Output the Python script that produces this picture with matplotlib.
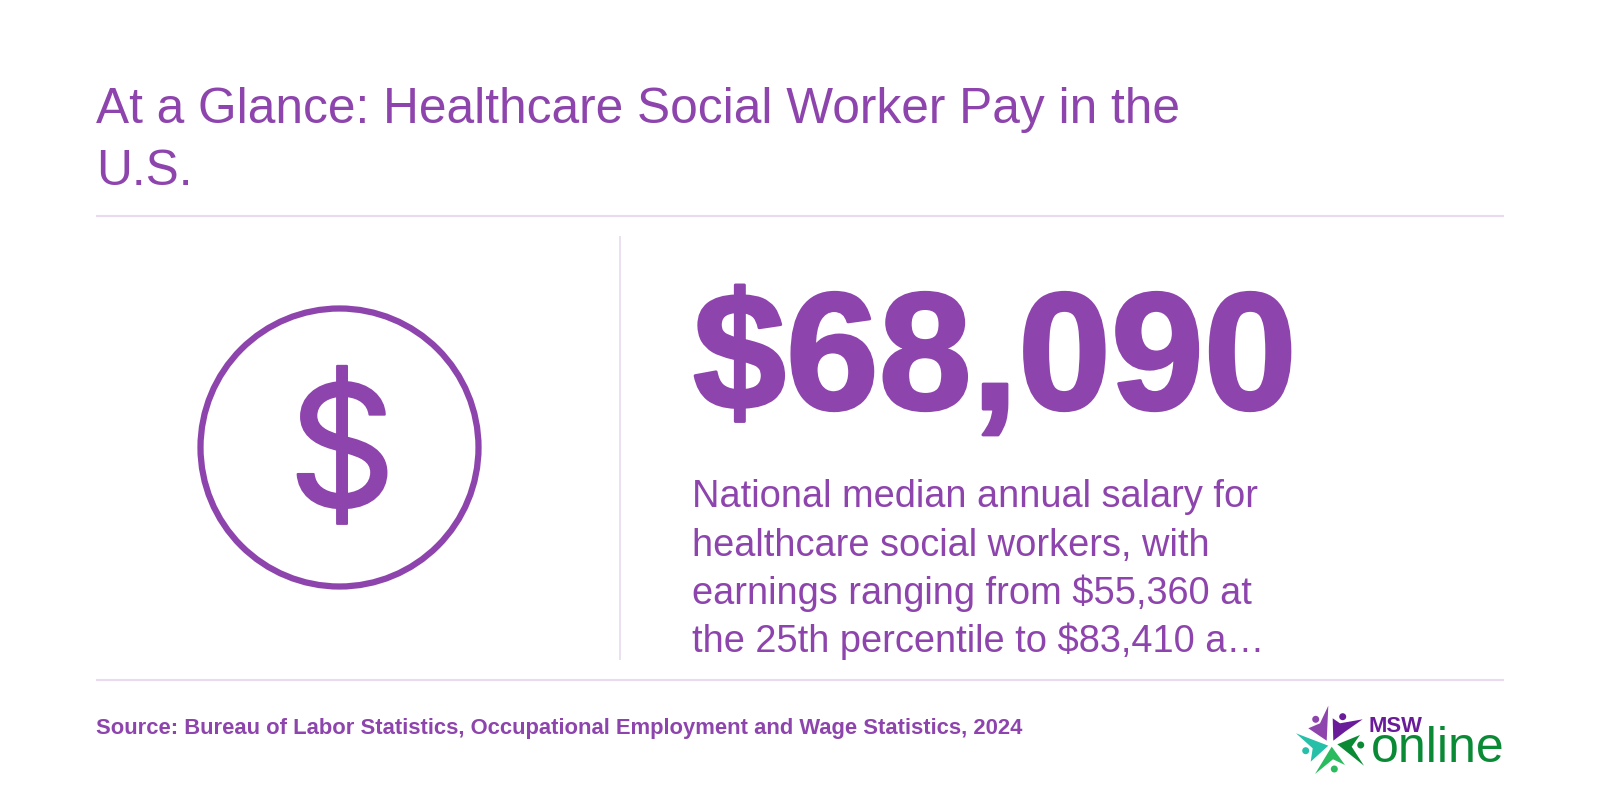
#!/usr/bin/env python3
"""At a glance card: healthcare social worker pay."""

import matplotlib
matplotlib.use('Agg')
import matplotlib.pyplot as plt
import matplotlib.patches as patches
import matplotlib.patheffects as pe

TITLE_LINES = ["At a Glance: Healthcare Social Worker Pay in the", "U.S."]
BIG_VALUE = "$68,090"
BODY_LINES = [
    "National median annual salary for",
    "healthcare social workers, with",
    "earnings ranging from $55,360 at",
    "the 25th percentile to $83,410 a…",
]
SOURCE = "Source: Bureau of Labor Statistics, Occupational Employment and Wage Statistics, 2024"

PURPLE = '#8E44AD'
RULE = '#E8DAEF'
DARK_PURPLE = '#6A1B9A'
LIGHT_PURPLE = '#8E44AD'
TEAL = '#26BFA8'
GREEN = '#2BBB5F'
DARK_GREEN = '#0B8A36'

plt.rcParams['font.family'] = ['Liberation Sans', 'DejaVu Sans']

fig = plt.figure(figsize=(16, 8), dpi=100, facecolor='white')
ax = fig.add_axes([0, 0, 1, 1])
ax.set_xlim(0, 1600)
ax.set_ylim(800, 0)
ax.axis('off')


def px(size):
    # font size in pixels -> points at 100 dpi
    return size * 0.72


# title
for text, y in zip(TITLE_LINES, [123, 185]):
    ax.text(96, y, text, color=PURPLE, fontsize=px(49.65), va='baseline', ha='left')

# rules
ax.plot([96, 1504], [216, 216], color=RULE, lw=1.5, solid_capstyle='butt')
ax.plot([96, 1504], [680, 680], color=RULE, lw=1.5, solid_capstyle='butt')
ax.plot([620, 620], [236, 660], color=RULE, lw=1.2, solid_capstyle='butt')

# dollar icon
ax.add_patch(patches.Circle((339.5, 447.5), 139, fill=False, edgecolor=PURPLE, lw=4.5))
icon = ax.text(342, 506, "$", color=PURPLE, fontsize=px(168), family='Inter', ha='center', va='baseline')
icon.set_path_effects([pe.withStroke(linewidth=1.5, foreground=PURPLE)])

# big number, stroked a little since Liberation Bold is lighter than the original
big = ax.text(693, 409, BIG_VALUE, color=PURPLE, fontsize=px(167), fontweight='bold',
              ha='left', va='baseline')
big.set_path_effects([pe.withStroke(linewidth=2.2, foreground=PURPLE)])

# description
for text, y in zip(BODY_LINES, [507, 556, 604, 652]):
    ax.text(692, y, text, color=PURPLE, fontsize=px(38), ha='left', va='baseline')

# source
ax.text(96, 734, SOURCE, color=PURPLE, fontsize=px(22), fontweight='bold',
        ha='left', va='baseline')

# logo
star = [
    ([1328.3, 1326.7, 1308.3, 1320], [705.7, 740.7, 728.3, 723.3], LIGHT_PURPLE),
    ([1332.7, 1340, 1362.7, 1345, 1333.3], [718.3, 723.3, 719.3, 731.7, 740.7], DARK_PURPLE),
    ([1296, 1328.3, 1310.7, 1312.7], [733.3, 745.7, 761.7, 748.3], TEAL),
    ([1360, 1337.3, 1364, 1351.7], [735, 744.3, 765.7, 746.7], DARK_GREEN),
    ([1331.7, 1345, 1333, 1315], [746.7, 765, 759.3, 774], GREEN),
]
for xs, ys, color in star:
    ax.add_patch(patches.Polygon(list(zip(xs, ys)), closed=True, fc=color, ec='none'))
for x, y, color in [(1315.7, 719.3, LIGHT_PURPLE), (1342.7, 716.7, DARK_PURPLE), (1305.7, 750.7, TEAL),
                    (1360.7, 745, DARK_GREEN), (1334.3, 769, GREEN)]:
    ax.add_patch(patches.Circle((x, y), 3.5, fc=color, ec='none'))
ax.text(1369, 732.3, "MSW", color=DARK_PURPLE, fontsize=px(22), fontweight='bold', ha='left', va='baseline')
ax.text(1371, 762, "online", color=DARK_GREEN, fontsize=px(50), ha='left', va='baseline')

fig.savefig('out.png', dpi=100, facecolor='white')
